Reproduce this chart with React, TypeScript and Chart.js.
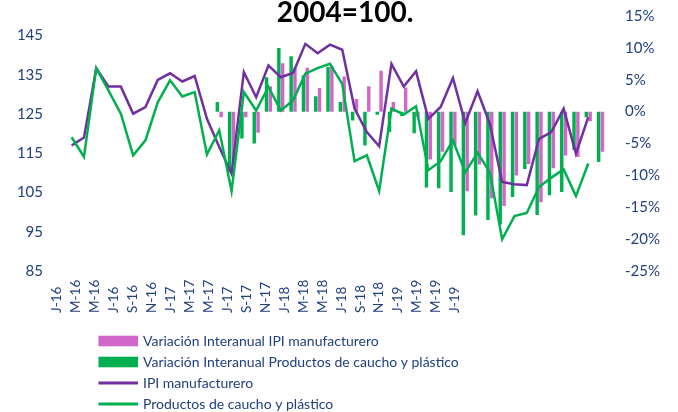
import React, { useEffect, useRef } from 'react';
import { Chart, registerables } from 'chart.js';

Chart.register(...registerables);

// ---- data ----
const months = [
  'ene-16', 'feb-16', 'mar-16', 'abr-16', 'may-16', 'jun-16', 'jul-16', 'ago-16', 'sep-16', 'oct-16', 'nov-16', 'dic-16',
  'ene-17', 'feb-17', 'mar-17', 'abr-17', 'may-17', 'jun-17', 'jul-17', 'ago-17', 'sep-17', 'oct-17', 'nov-17', 'dic-17',
  'ene-18', 'feb-18', 'mar-18', 'abr-18', 'may-18', 'jun-18', 'jul-18', 'ago-18', 'sep-18', 'oct-18', 'nov-18', 'dic-18',
  'ene-19', 'feb-19', 'mar-19', 'abr-19', 'may-19', 'jun-19', 'jul-19', 'ago-19',
];

const xTickLabels = [
  'J-16', 'M-16', 'M-16', 'J-16', 'S-16', 'N-16', 'J-17', 'M-17', 'M-17', 'J-17', 'S-17',
  'N-17', 'J-18', 'M-18', 'M-18', 'J-18', 'S-18', 'N-18', 'J-19', 'M-19', 'M-19', 'J-19',
];

const leftTicks = [85, 95, 105, 115, 125, 135, 145];

const ipiManufacturero = [
  117.0, 119.0, 136.7, 132.0, 132.0, 125.1, 126.8, 133.7, 135.4, 133.3, 134.7, 123.8,
  116.6, 109.8, 135.7, 129.3, 137.4, 134.4, 135.5, 142.9, 140.5, 142.7, 141.4, 126.4,
  120.4, 116.8, 137.8, 132.0, 135.9, 123.8, 126.8, 134.2, 122.7, 130.8, 122.5, 107.7,
  107.1, 106.9, 118.7, 120.4, 126.4, 114.9, 124.2, null,
];

const cauchoPlastico = [
  119.1, 114.1, 136.7, 131.0, 125.1, 114.5, 118.3, 128.0, 133.6, 129.5, 130.6, 114.7,
  120.9, 105.4, 130.6, 125.9, 131.9, 125.9, 128.5, 135.3, 136.7, 137.8, 132.7, 113.0,
  114.5, 105.4, 126.4, 124.9, 127.0, 110.7, 113.0, 118.3, 110.2, 115.1, 110.2, 93.1,
  99.0, 99.8, 106.4, 108.8, 110.9, 104.1, 112.4, null,
];

const varIpi = [
  null, null, null, null, null, null, null, null, null, null, null, null,
  -0.9, -7.9, -0.9, -3.3, 4.0, 7.6, 6.9, 6.9, 3.7, 7.2, 5.5, 2.0,
  4.0, 6.4, 1.5, 3.8, -0.9, -7.5, -6.3, -5.3, -12.5, -8.3, -13.6, -14.8,
  -10.0, -8.2, -14.2, -8.9, -6.9, -7.1, -1.5, -6.3,
];

const varCaucho = [
  null, null, null, null, null, null, null, null, null, null, null, null,
  1.5, -9.5, -4.2, -5.0, 5.4, 10.0, 8.7, 5.7, 2.4, 7.0, 1.5, -1.4,
  -5.3, -0.5, -3.2, -0.7, -3.4, -11.9, -12.0, -12.6, -19.4, -16.3, -17.0, -17.7,
  -13.4, -9.0, -16.2, -13.1, -12.6, -6.0, -0.9, -7.9,
];

const TITLE = '2004=100.';
const PINK = '#D066C8';
const GREEN = '#00B050';
const PURPLE = '#7030A0';
const AXIS_TEXT = '#22407E';
const LEGEND_TEXT = '#22407E';

// Category-axis labels sit on their own grid (in category units of the x scale)
const LABEL_START = -1.195;
const LABEL_STEP = 1.5407;

const overlayPlugin = {
  id: 'overlay',
  afterDraw(chart: any) {
    const ctx = chart.ctx as CanvasRenderingContext2D;
    ctx.save();
    // title
    ctx.fillStyle = '#000000';
    ctx.font = 'bold 28px Lato';
    ctx.textAlign = 'center';
    ctx.textBaseline = 'alphabetic';
    ctx.fillText(TITLE, 345, 22);

    // category labels (rotated, start-aligned at the bottom), placed through the x scale
    const xs = chart.scales.x;
    ctx.font = '13.5px Lato';
    ctx.fillStyle = AXIS_TEXT;
    ctx.textAlign = 'left';
    ctx.textBaseline = 'middle';
    const labelBottom = chart.chartArea.bottom + 42;
    xTickLabels.forEach((lab, i) => {
      const px = xs.getPixelForValue(LABEL_START + i * LABEL_STEP);
      ctx.save();
      ctx.translate(px, labelBottom);
      ctx.rotate(-Math.PI / 2);
      ctx.fillText(lab, 0, 0);
      ctx.restore();
    });

    // legend
    const rows = [341, 362, 383, 404];
    const bx = 98.5;
    const bw = 39.5;
    ctx.font = '14px Lato';
    ctx.textAlign = 'left';
    ctx.textBaseline = 'middle';
    chart.data.datasets.forEach((ds: any, i: number) => {
      const y = rows[i];
      if (ds.type === 'bar') {
        ctx.fillStyle = ds.backgroundColor;
        ctx.fillRect(bx, y - 5.3, bw, 10.6);
      } else {
        ctx.strokeStyle = ds.borderColor;
        ctx.lineWidth = 3;
        ctx.beginPath();
        ctx.moveTo(bx, y);
        ctx.lineTo(bx + bw, y);
        ctx.stroke();
      }
      ctx.fillStyle = LEGEND_TEXT;
      ctx.fillText(ds.label, 143, y);
    });
    ctx.restore();
  },
};

export default function App() {
  const ref = useRef<HTMLCanvasElement | null>(null);

  useEffect(() => {
    document.body.style.margin = '0';
    const canvas = ref.current;
    if (!canvas) return;
    const tickFont = { family: 'Lato', size: 15 };
    const chart = new Chart(canvas, {
      type: 'bar',
      data: {
        labels: months,
        datasets: [
          {
            type: 'bar',
            label: 'Variación Interanual IPI manufacturero',
            data: varIpi,
            backgroundColor: PINK,
            yAxisID: 'y1',
            xAxisID: 'x',
            order: 3,
            categoryPercentage: 0.62,
            barPercentage: 0.9,
          },
          {
            type: 'bar',
            label: 'Variación Interanual Productos de caucho y plástico',
            data: varCaucho,
            backgroundColor: GREEN,
            yAxisID: 'y1',
            xAxisID: 'x',
            order: 2,
            categoryPercentage: 0.62,
            barPercentage: 0.9,
          },
          {
            type: 'line',
            label: 'IPI manufacturero',
            data: ipiManufacturero,
            borderColor: PURPLE,
            backgroundColor: PURPLE,
            borderWidth: 2.5,
            pointRadius: 0,
            tension: 0,
            yAxisID: 'y',
            xAxisID: 'x',
            order: 1,
          },
          {
            type: 'line',
            label: 'Productos de caucho y plástico',
            data: cauchoPlastico,
            borderColor: GREEN,
            backgroundColor: GREEN,
            borderWidth: 2.5,
            pointRadius: 0,
            tension: 0,
            yAxisID: 'y',
            xAxisID: 'x',
            order: 0,
          },
        ] as any,
      },
      options: {
        responsive: false,
        animation: false,
        layout: { padding: { top: 16, bottom: 141, left: 0, right: 0 } },
        plugins: {
          legend: { display: false },
          title: { display: false },
          tooltip: { enabled: false },
        },
        scales: {
          x: {
            type: 'category',
            display: false,
            offset: true,
          },
          y: {
            type: 'linear',
            position: 'left',
            min: 85,
            max: 150,
            grid: { display: false, drawTicks: false },
            border: { display: false },
            afterBuildTicks: (axis: any) => {
              axis.ticks = leftTicks.map((v) => ({ value: v }));
            },
            afterFit: (s: any) => {
              s.width = 65.5;
              s.paddingTop = 0;
              s.paddingBottom = 0;
            },
            ticks: {
              padding: 22.5,
              color: AXIS_TEXT,
              font: tickFont,
              callback: (v: any) => String(v),
            },
          },
          y1: {
            type: 'linear',
            position: 'right',
            min: -25,
            max: 15,
            grid: { display: false, drawTicks: false },
            border: { display: false },
            afterFit: (s: any) => {
              s.width = 71.3;
              s.paddingTop = 0;
              s.paddingBottom = 0;
            },
            ticks: {
              stepSize: 5,
              padding: 18.3,
              color: AXIS_TEXT,
              font: tickFont,
              callback: (v: any) => `${v}%`,
            },
          },
        },
      } as any,
      plugins: [overlayPlugin],
    });
    return () => chart.destroy();
  }, []);

  return (
    <div style={{ width: 678, height: 412, background: '#ffffff' }}>
      <canvas ref={ref} width={678} height={412} style={{ display: 'block' }} />
    </div>
  );
}
